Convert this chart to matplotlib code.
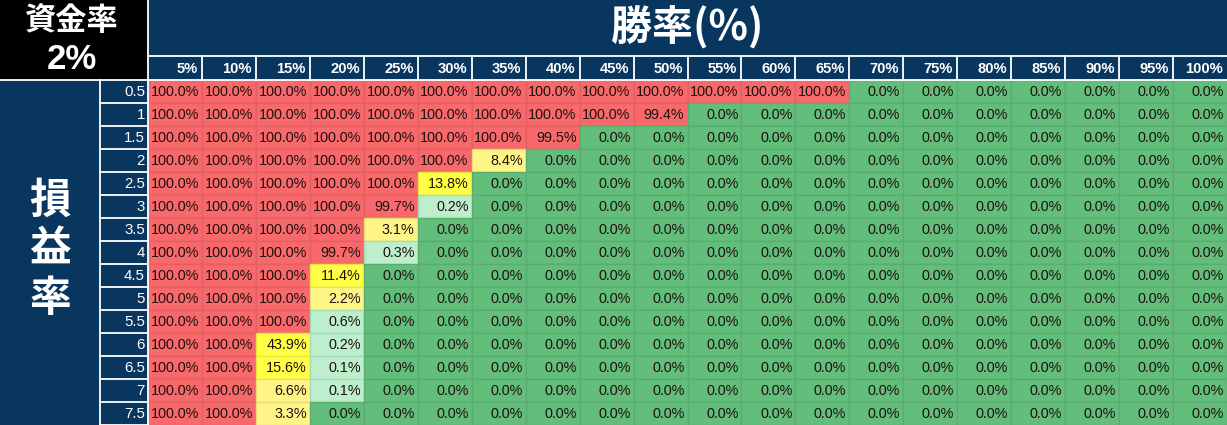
import numpy as np
import matplotlib
matplotlib.use("Agg")
import matplotlib.pyplot as plt
from matplotlib.patches import Rectangle

plt.rcParams['font.family'] = ['Liberation Sans', 'Noto Sans CJK JP', 'DejaVu Sans']

# data
win_rates = ["5%", "10%", "15%", "20%", "25%", "30%", "35%", "40%", "45%", "50%",
             "55%", "60%", "65%", "70%", "75%", "80%", "85%", "90%", "95%", "100%"]
rr_ratios = ["0.5", "1", "1.5", "2", "2.5", "3", "3.5", "4", "4.5", "5",
             "5.5", "6", "6.5", "7", "7.5"]

# number of leading 100% cells in each row, then the partial cells after them
full_count = [13, 9, 7, 6, 5, 4, 4, 3, 3, 3, 3, 2, 2, 2, 2]
partial = [[], [99.4], [99.5], [8.4], [13.8], [99.7, 0.2], [3.1], [99.7, 0.3],
           [11.4], [2.2], [0.6], [43.9, 0.2], [15.6, 0.1], [6.6, 0.1], [3.3]]

values = []
for n, p in zip(full_count, partial):
    row = [100.0] * n + p
    row = row + [0.0] * (len(win_rates) - len(row))
    values.append(row)
values = np.array(values)

title = "勝率(%)"
corner_top = "資金率"
corner_bottom = "2%"
side_label = "損\n益\n率"

# layout (pixels)
W, H = 1227, 425
left_w, rowhdr_w = 100, 48
title_h, colhdr_h = 56, 24
x0 = left_w + rowhdr_w
y0 = title_h + colhdr_h
cw = (W - x0) / len(win_rates)
rh = (H - y0) / len(rr_ratios)

navy = "#08365E"
c_red, c_yel, c_lyel, c_lgrn, c_grn = "#F8696B", "#FFFF45", "#FFF587", "#BDEFCC", "#63BE7B"
e_red, e_yel, e_lyel, e_lgrn, e_grn = "#E35F62", "#E8E840", "#E6DC7A", "#A9D9B7", "#58AE70"


def cell_colors(v):
    if v >= 90:
        return c_red, e_red
    if v >= 10:
        return c_yel, e_yel
    if v >= 1:
        return c_lyel, e_lyel
    if v > 0:
        return c_lgrn, e_lgrn
    return c_grn, e_grn


fig = plt.figure(figsize=(W / 100, H / 100), dpi=100)
ax = fig.add_axes([0, 0, 1, 1])
ax.set_xlim(0, W)
ax.set_ylim(H, 0)
ax.axis("off")

# header blocks
ax.add_patch(Rectangle((0, 0), x0, y0, facecolor="black", edgecolor="none"))
ax.add_patch(Rectangle((x0, 0), W - x0, y0, facecolor=navy, edgecolor="none"))
ax.add_patch(Rectangle((0, y0), x0, H - y0, facecolor=navy, edgecolor="none"))

# data cells
for i in range(len(rr_ratios)):
    for j in range(len(win_rates)):
        fc, ec = cell_colors(values[i, j])
        ax.add_patch(Rectangle((x0 + j * cw, y0 + i * rh), cw, rh,
                               facecolor=fc, edgecolor=ec, linewidth=1))
        ax.text(x0 + (j + 1) * cw - 3, y0 + (i + 0.5) * rh + 0.5,
                f"{values[i, j]:.1f}%", ha="right", va="center",
                fontsize=10.4, color="#1f1010")

# white separators
lw = 1.3
ax.plot([x0, x0], [0, H], color="white", lw=lw)
ax.plot([left_w, left_w], [y0, H], color="white", lw=lw)
ax.plot([x0, W], [title_h, title_h], color="white", lw=lw)
ax.plot([0, W], [y0, y0], color="white", lw=lw)
for j in range(1, len(win_rates)):
    ax.plot([x0 + j * cw] * 2, [title_h, y0], color="white", lw=lw)
for i in range(1, len(rr_ratios) + 1):
    ax.plot([left_w, x0], [y0 + i * rh] * 2, color="white", lw=lw)

# header texts
for j, lab in enumerate(win_rates):
    ax.text(x0 + (j + 1) * cw - 4, title_h + colhdr_h / 2 + 1, lab,
            ha="right", va="center", fontsize=10.6, fontweight="bold", color="white")
for i, lab in enumerate(rr_ratios):
    ax.text(x0 - 3, y0 + (i + 0.5) * rh + 0.5, lab,
            ha="right", va="center", fontsize=10.8, color="white")

ax.text(x0 + (W - x0) / 2, title_h / 2, title, ha="center", va="center",
        fontsize=29.5, fontweight="bold", color="white",
        family=['Noto Sans CJK JP', 'DejaVu Sans'])
ax.text(x0 / 2 - 2, 21, corner_top, ha="center", va="center", fontsize=22.5,
        fontweight="bold", color="white", family=['Noto Sans CJK JP'])
ax.text(x0 / 2 - 2, 59, corner_bottom, ha="center", va="center", fontsize=25,
        fontweight="bold", color="white")
ax.text(left_w / 2, 250, side_label, ha="center", va="center", fontsize=30,
        fontweight="bold", color="white", linespacing=1.22,
        family=['Noto Sans CJK JP'])

fig.savefig("out.png", dpi=100)
